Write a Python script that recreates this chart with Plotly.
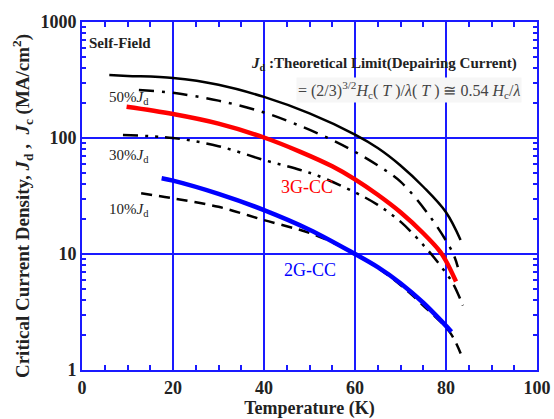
import plotly.graph_objects as go

# ---- data ----
T_jd = [6, 10, 20, 30, 40, 50, 60, 65, 70, 75, 80, 83.2]
J_jd = [349, 343, 329, 288, 226, 163, 107, 82, 58, 38, 22.9, 13.2]

T_50 = [12.5, 20, 30, 40, 48.6, 55, 60, 65, 70, 76.5, 81.5, 82.6]
J_50 = [259, 245, 210, 166, 124, 96, 76, 58, 42, 21, 10.2, 7.7]

T_30 = [9, 20, 30, 40, 48, 52, 60, 65, 70, 75.4, 78.7, 81.5, 83.7]
J_30 = [106, 100, 85, 64.6, 53, 47, 34, 26.5, 19, 11.5, 8, 5.6, 3.6]

T_10 = [13, 20, 30, 40, 50, 55, 60, 65, 70, 75, 80.9, 83.5]
J_10 = [33.4, 30.2, 25.5, 19.6, 15.2, 12.6, 10, 7.6, 5.4, 3.6, 2.1, 1.3]

T_3g = [9.8, 20, 30, 40, 48, 55, 60, 65, 70, 75, 78.7, 80, 82.2]
J_3g = [186, 161, 133, 101, 76, 57, 44, 32.4, 22.9, 15.1, 10.5, 8.7, 5.8]

T_2g = [17.5, 20, 30, 40, 50, 60, 65, 70, 75, 81.2]
J_2g = [45, 42.9, 33, 23.9, 16.2, 10, 7.7, 5.6, 3.8, 2.14]

x_ticks = [0, 20, 40, 60, 80, 100]
y_ticks = [1, 10, 100, 1000]
y_tick_text = ["1", "10", "100", "1000"]

SERIF = "Liberation Serif, Times New Roman, serif"
BLUE = "#1a1aff"

fig = go.Figure()

def add(T, J, color, width, dash):
    fig.add_trace(go.Scatter(x=T, y=J, mode="lines",
                             line=dict(color=color, width=width, dash=dash, shape="spline", smoothing=1.0),
                             showlegend=False, hoverinfo="skip"))

add(T_jd, J_jd, "black", 2.5, "solid")
add(T_50, J_50, "black", 2.5, "15px,8px,3px,8px")
add(T_30, J_30, "black", 2.5, "15px,7px,3px,7px,3px,7px")
add(T_10, J_10, "black", 2.5, "11px,7px")
add(T_3g, J_3g, "#ff0000", 4.5, "solid")
add(T_2g, J_2g, "#0000ff", 4.5, "solid")

minor_y = [v * m for v in (1, 10, 100) for m in range(2, 10)]

fig.update_xaxes(
    range=[0, 100], tickvals=x_ticks, ticks="inside", ticklen=7, tickwidth=1.5, tickcolor=BLUE,
    showline=True, linecolor=BLUE, linewidth=2, mirror="ticks",
    showgrid=True, gridcolor=BLUE, gridwidth=1.5, zeroline=False, automargin=False,
    minor=dict(tickvals=[v for v in range(5, 100, 5) if v % 20], ticks="inside", ticklen=5,
               tickcolor=BLUE, showgrid=False),
    tickfont=dict(family=SERIF, size=18, color="#222", weight="bold"),
    title=dict(text="Temperature (K)", font=dict(family=SERIF, size=18, color="#222", weight="bold"),
               standoff=10),
)
fig.update_yaxes(
    type="log", range=[0, 3], tickvals=y_ticks, ticktext=y_tick_text, ticks="inside", ticklen=7,
    tickwidth=1.5, tickcolor=BLUE,
    showline=True, linecolor=BLUE, linewidth=2, mirror="ticks",
    showgrid=True, gridcolor=BLUE, gridwidth=1.5, zeroline=False, automargin=False,
    minor=dict(tickvals=minor_y, ticks="inside", ticklen=4, tickcolor=BLUE, showgrid=False),
    tickfont=dict(family=SERIF, size=18, color="#222", weight="bold"),
)

# y-axis title as a rotated annotation, centred where the reference has it
fig.add_annotation(
    xref="paper", yref="paper", x=-0.132, y=0.471, xanchor="center", yanchor="middle",
    textangle=-90, showarrow=False,
    text="Critical Current Density, <i>J</i><sub>d</sub> ,  <i>J</i><sub>c</sub> (MA/cm<sup>2</sup>)",
    font=dict(family=SERIF, size=19, color="#222", weight="bold"),
)

def note(x, y, text, size=15, color="#222", anchor="left", bold=False, bg=None):
    fig.add_annotation(x=x, y=y, text=text, showarrow=False, xanchor=anchor, yanchor="middle",
                       font=dict(family=SERIF, size=size, color=color, weight="bold" if bold else "normal"),
                       bgcolor=bg)

note(1.1, 2.82, "Self-Field", size=15, bold=True)
note(96.0, 2.638, "<i>J</i><sub>d</sub> :Theoretical Limit(Depairing Current)", size=15, bold=True, anchor="right")
note(96.8, 2.414, "= (2/3)<sup>3/2</sup><i>H</i><sub>c</sub>( <i>T</i> )/<i>λ</i>( <i>T</i> ) ≅ 0.54 <i>H</i><sub>c</sub>/<i>λ</i>",
     size=16, color="#444", anchor="right", bg="#f6f6f6")
note(5.5, 2.345, "50%<i>J</i><sub>d</sub>", size=15)
note(5.5, 1.845, "30%<i>J</i><sub>d</sub>", size=15)
note(5.5, 1.379, "10%<i>J</i><sub>d</sub>", size=15)
note(43.3, 1.578, "3G-CC", size=18, color="#ff0000")
note(44.0, 0.862, "2G-CC", size=18, color="#0000ff")

fig.update_layout(
    width=554, height=419, margin=dict(l=82, r=17, t=22, b=49),
    plot_bgcolor="white", paper_bgcolor="white",
)

fig.write_html("out.html")
